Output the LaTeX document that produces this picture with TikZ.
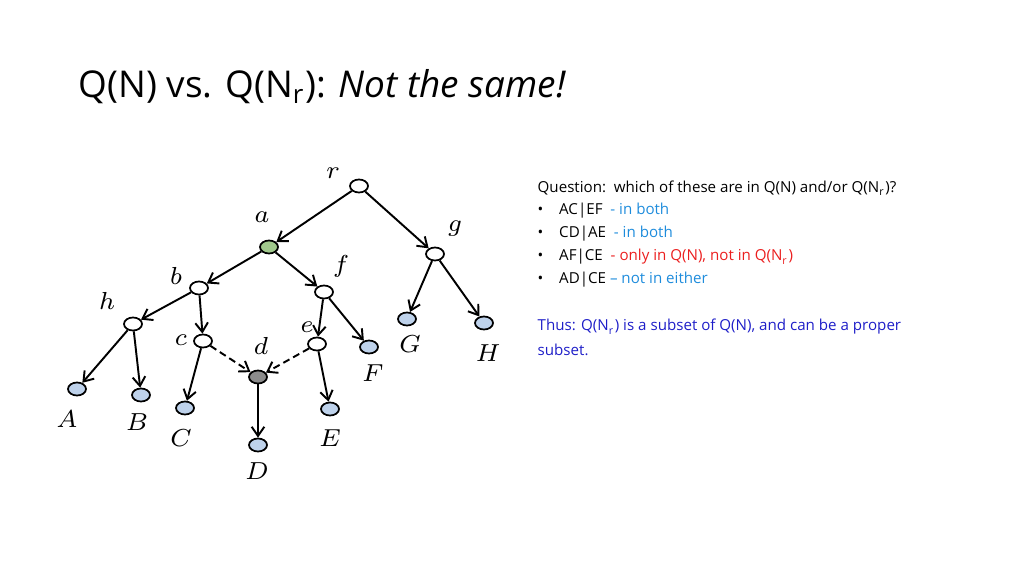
\documentclass[tikz,border=0pt]{standalone}
\usepackage{fontspec}
\setmainfont{Open Sans}
\usetikzlibrary{arrows.meta,shapes.geometric}
\definecolor{nblue}{RGB}{190,210,235}
\definecolor{ngreen}{RGB}{160,200,140}
\definecolor{ngray}{RGB}{140,140,140}
\definecolor{tblue}{RGB}{30,140,220}
\definecolor{tred}{RGB}{235,30,30}
\definecolor{tdark}{RGB}{30,30,200}
\begin{document}
\begin{tikzpicture}[x=0.01cm,y=-0.01cm,
  nd/.style={draw,line width=0.5pt,ellipse,minimum width=0.18cm,minimum height=0.13cm,inner sep=0pt,fill=white},
  leaf/.style={nd,fill=nblue},
  lab/.style={font=\fontsize{7.2}{7.2}\selectfont},
  ed/.style={line width=0.55pt,-{Straight Barb[length=2.6pt,width=3.6pt,line width=0.55pt]}},
  tx/.style={anchor=west,font=\fontsize{4.3}{5}\selectfont,inner sep=0pt}]
\useasboundingbox (0,0) rectangle (1024,576);
\node[anchor=west,inner sep=0pt,font=\fontsize{10.5}{12}\selectfont] (title) at (78,87) {Q(N) vs. Q(N$_{\mathrm r}$): \textit{Not the same!}};
\node[nd] (r) at (359,186) {};
\node[nd,fill=ngreen] (a) at (269,247) {};
\node[nd] (g) at (435,254) {};
\node[nd] (b) at (199,288) {};
\node[nd] (f) at (324,292) {};
\node[nd] (h) at (133,324) {};
\node[nd] (e) at (317,344) {};
\node[nd] (c) at (203,341) {};
\node[nd,fill=ngray] (d) at (258,377) {};
\node[leaf] (G) at (407,319) {};
\node[leaf] (H) at (484,323) {};
\node[leaf] (F) at (369,347) {};
\node[leaf] (A) at (77,389) {};
\node[leaf] (B) at (141,395) {};
\node[leaf] (C) at (185,408) {};
\node[leaf] (D) at (258,445) {};
\node[leaf] (E) at (330,409) {};
\foreach \n/\x/\y in {r/333/173,a/262/217,g/455/229,f/341/266,b/176/276,h/107/301,e/307/327,c/181/340,d/261/346,G/410/344,H/488/353,F/373/373,A/67/419,B/137/422,C/181/438,D/257/471,E/330/438}
  \node[lab] (l\n) at (\x,\y) {$\n$};
\draw[ed] (r)--(a); \draw[ed] (r)--(g); \draw[ed] (a)--(b); \draw[ed] (a)--(f);
\draw[ed] (g)--(G); \draw[ed] (g)--(H); \draw[ed] (b)--(h); \draw[ed] (b)--(c);
\draw[ed] (f)--(e); \draw[ed] (f)--(F); \draw[ed] (h)--(A); \draw[ed] (h)--(B);
\draw[ed] (c)--(C); \draw[ed,dash pattern=on 2pt off 1.2pt] (c)--(d); \draw[ed,dash pattern=on 2pt off 1.2pt] (e)--(d);
\draw[ed] (d)--(D); \draw[ed] (e)--(E);
\node[tx] (q) at (537,188) {Question:\ \ which of these are in Q(N) and/or Q(N$_{\mathrm r}$)?};
\node[tx] (q1) at (537,211) {•\hspace{4.5pt}AC|EF\ \ \textcolor{tblue}{- in both}};
\node[tx] (q2) at (537,234) {•\hspace{4.5pt}CD|AE\ \ \textcolor{tblue}{- in both}};
\node[tx] (q3) at (537,257) {•\hspace{4.5pt}AF|CE\ \ \textcolor{tred}{- only in Q(N), not in Q(N$_{\mathrm r}$)}};
\node[tx] (q4) at (537,280) {•\hspace{4.5pt}AD|CE \textcolor{tblue}{– not in either}};
\node[tx,text=tdark] (t1) at (537,327) {Thus: Q(N$_{\mathrm r}$) is a subset of Q(N), and can be a proper};
\node[tx,text=tdark] (t2) at (537,350) {subset.};
\end{tikzpicture}
\end{document}
